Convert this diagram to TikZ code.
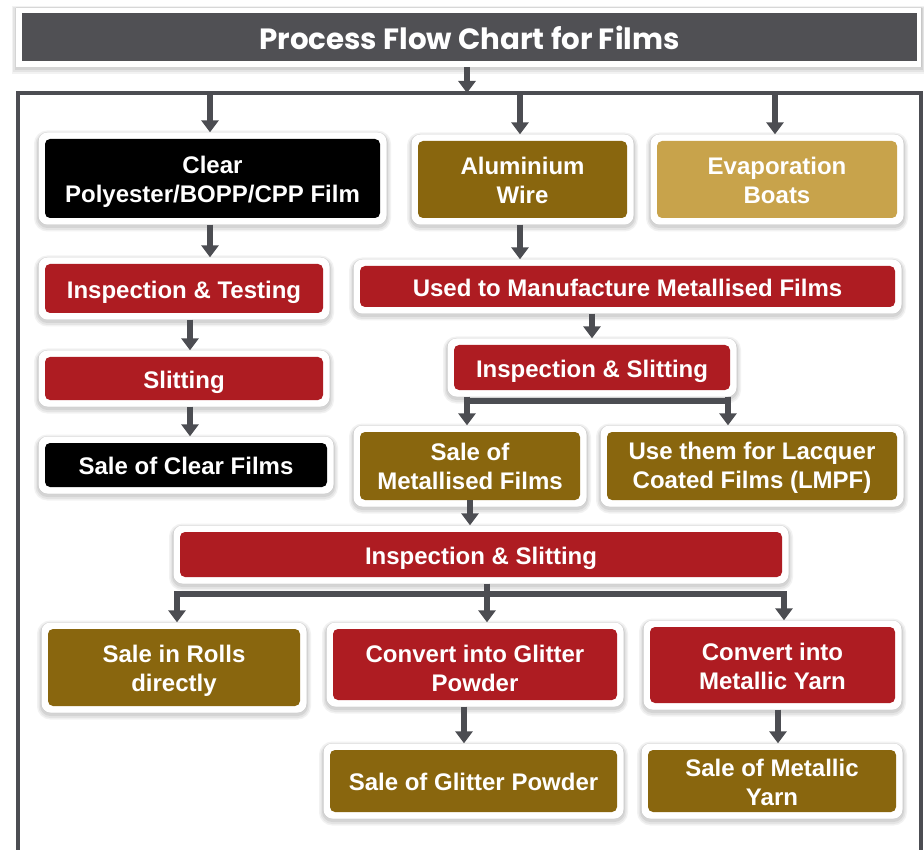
\documentclass[tikz,border=0pt]{standalone}
\usepackage{fontspec}
\setmainfont{Liberation Sans}
\newfontfamily\titlefont{Poppins}
\usetikzlibrary{arrows.meta,calc}
\definecolor{redbox}{HTML}{AE1C22}
\definecolor{olivebox}{HTML}{89660E}
\definecolor{tanbox}{HTML}{C8A34B}
\definecolor{titlegray}{HTML}{505054}
\definecolor{arrowgray}{HTML}{4C4D52}
\tikzset{
  softshadow/.style={
    preaction={draw=black, opacity=0.05, line width=9pt, transform canvas={yshift=-2.5pt}},
    preaction={draw=black, opacity=0.06, line width=6pt, transform canvas={yshift=-2.5pt}},
    preaction={draw=black, opacity=0.07, line width=3pt, transform canvas={yshift=-2pt}},
    preaction={draw=black, opacity=0.06, line width=1pt}},
  outerbox/.style={fill=white, rounded corners=9pt, inner sep=0pt, softshadow},
  innerbox/.style={rounded corners=5pt, inner sep=0pt},
  boxtext/.style={inner sep=0pt, align=center, text=white,
    font=\bfseries\fontsize{24}{29}\selectfont},
  arr/.style={draw=arrowgray, line width=6pt, -{Triangle[width=17pt,length=12pt]}},
  conn/.style={draw=arrowgray, line width=6pt},
  frameline/.style={draw=arrowgray, line width=4pt}
}
% [text shift]{name}{x}{y}{w}{h}{colour}{text}
\newcommand{\flowbox}[8][3.5]{%
  \node[outerbox, minimum width=#5pt+13pt, minimum height=#6pt+13pt] (#2o) at (#3,#4) {};
  \node[innerbox, fill=#7, minimum width=#5pt, minimum height=#6pt] (#2) at (#3,#4) {};
  \node[boxtext] (#2t) at ($(#2)+(0,#1)$) {#8};
}
\begin{document}
\begin{tikzpicture}[x=1pt,y=-1pt]
\useasboundingbox (0,0) rectangle (924,850);
\clip (0,0) rectangle (924,850);
% frame
\draw[frameline] (18,93) rectangle (921,870);
% title
\node[fill=white, inner sep=0pt, minimum width=905pt, minimum height=59pt, softshadow] (titleo) at (468.5,37.5) {};
\node[fill=titlegray, inner sep=0pt, minimum width=895pt, minimum height=48pt] (title) at (469.5,37) {};
\node[inner sep=0pt, text=white, font=\titlefont\bfseries\fontsize{29.3}{33}\selectfont] (titlet) at ($(title)+(0,1)$) {Process Flow Chart for Films};
% boxes
\flowbox{clear}{212.5}{178.5}{335}{79}{black}{Clear\\Polyester/BOPP/CPP Film}
\flowbox[0.5]{alu}{522.5}{179.5}{209}{77}{olivebox}{Aluminium\\Wire}
\flowbox[0.5]{evap}{777}{179.5}{240}{77}{tanbox}{Evaporation\\Boats}
\flowbox{it}{184}{288.5}{278}{49}{redbox}{Inspection \& Testing}
\flowbox[1.5]{used}{627.5}{286.5}{535}{41}{redbox}{Used to Manufacture Metallised Films}
\flowbox{ism}{592}{367.5}{276}{45}{redbox}{Inspection \& Slitting}
\flowbox{slit}{184}{378.5}{278}{43}{redbox}{Slitting}
\flowbox[0.5]{saleclear}{186}{465}{282}{44}{black}{Sale of Clear Films}
\flowbox[0.5]{salemet}{470}{466}{220}{68}{olivebox}{Sale of\\Metallised Films}
\flowbox[2]{lmpf}{752}{466}{290}{68}{olivebox}{Use them for Lacquer\\Coated Films (LMPF)}
\flowbox{isb}{481}{554.5}{602}{45}{redbox}{Inspection \& Slitting}
\flowbox{rolls}{174}{667.5}{252}{77}{olivebox}{Sale in Rolls\\directly}
\flowbox{glitter}{475}{664.5}{284}{71}{redbox}{Convert into Glitter\\Powder}
\flowbox[1.5]{yarn}{772.5}{665}{245}{76}{redbox}{Convert into\\Metallic Yarn}
\flowbox[0.5]{saleglit}{473.5}{781}{287}{62}{olivebox}{Sale of Glitter Powder}
\flowbox[1.5]{saleyarn}{772}{781}{248}{62}{olivebox}{Sale of Metallic\\Yarn}
% coordinates
\coordinate (ftop) at (467,93);
\coordinate (fa) at (210,95);
\coordinate (fb) at (520,95);
\coordinate (fc) at (775,95);
\coordinate (b1) at (467,401);
\coordinate (b2) at (728,401);
\coordinate (c1) at (177,594);
\coordinate (c2) at (487,594);
\coordinate (c3) at (784,594);
\coordinate (gx) at (464,0);
\coordinate (yx) at (778,0);
\coordinate (ax) at (520,0);
\coordinate (tx) at (190,0);
\coordinate (ux) at (592,0);
% connectors
\draw[arr] (ftop |- titleo.south) -- (ftop);
\draw[arr] (fa) -- (fa |- clearo.north);
\draw[arr] (fb) -- (fb |- aluo.north);
\draw[arr] (fc) -- (fc |- evapo.north);
\draw[arr] (fa |- clearo.south) -- (fa |- ito.north);
\draw[arr] (ax |- aluo.south) -- (ax |- usedo.north);
\draw[arr] (tx |- ito.south) -- (tx |- slito.north);
\draw[arr] (tx |- slito.south) -- (tx |- saleclearo.north);
\draw[arr] (ux |- usedo.south) -- (ux |- ismo.north);
\draw[conn] ([xshift=-3pt]b1) -- ([xshift=3pt]b2);
\draw[arr] (b1 |- ismo.south) -- (b1 |- salemeto.north);
\draw[arr] (b2 |- ismo.south) -- (b2 |- lmpfo.north);
\draw[arr] (salemet.south) -- (salemet.south |- isbo.north);
\draw[arr] (c2 |- isbo.south) -- (c2 |- glittero.north);
\draw[conn] ([xshift=-3pt]c1) -- ([xshift=3pt]c3);
\draw[arr] (c1) -- (c1 |- rollso.north);
\draw[arr] (c3) -- (c3 |- yarno.north);
\draw[arr] (gx |- glittero.south) -- (gx |- saleglito.north);
\draw[arr] (yx |- yarno.south) -- (yx |- saleyarno.north);
\end{tikzpicture}
\end{document}
